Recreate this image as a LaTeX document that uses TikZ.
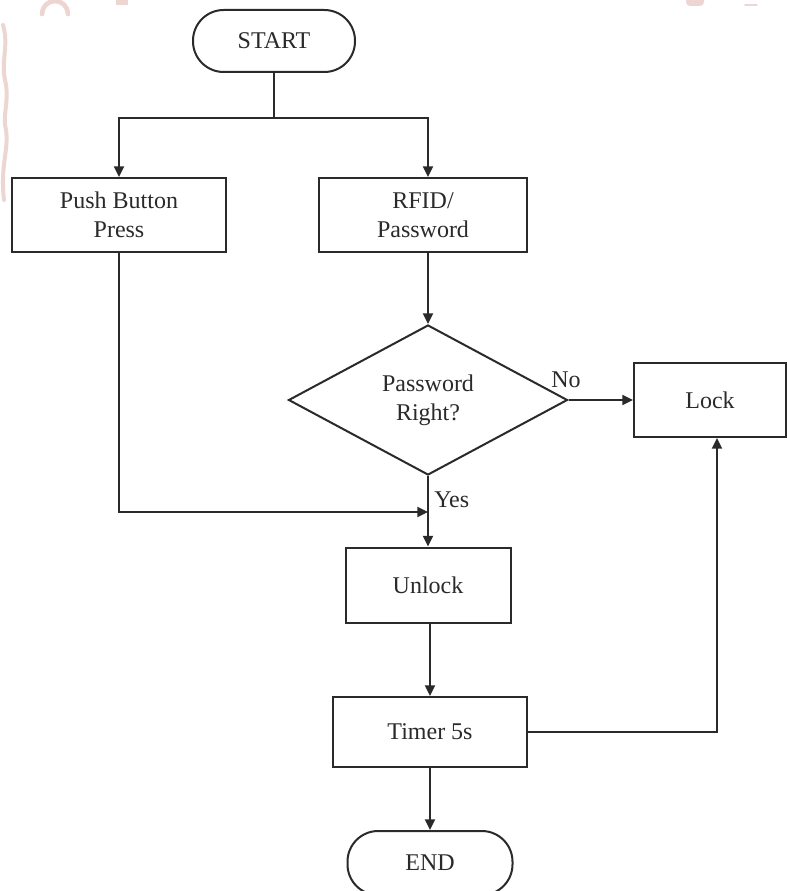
\documentclass[tikz,border=0pt]{standalone}
\usepackage{fontspec}
\setmainfont{Liberation Serif}
\usetikzlibrary{shapes.geometric,arrows.meta}

\definecolor{ink}{HTML}{2A2A2A}
\definecolor{pinkmark}{HTML}{EDD6D2}

\tikzset{
  base/.style={draw=ink, line width=1.5pt, text=ink, align=center, inner sep=0pt,
               font=\fontsize{18}{22}\selectfont},
  procbox/.style={base, rectangle},
  termbox/.style={base, rectangle, rounded corners=23pt},
  decbox/.style={base, diamond, aspect=1.86},
  flow/.style={draw=ink, line width=1.5pt, -{Triangle[length=8pt,width=7.5pt]}},
  link/.style={draw=ink, line width=1.5pt},
  lbl/.style={text=ink, font=\fontsize{18}{22}\selectfont, inner sep=0pt}
}

\begin{document}
\begin{tikzpicture}[x=0.75pt,y=-0.75pt]
  \useasboundingbox (0,0) rectangle (787,891);
  \fill[white] (0,0) rectangle (787,891);

  % faint background marks
  \begin{scope}[draw=pinkmark, line width=3.5pt, line cap=round]
    \draw (42,14) arc[start angle=180, end angle=360, radius=13];
    \fill[pinkmark] (116,0) rectangle (128,5);
    \fill[pinkmark, rounded corners=3pt] (686,-4) rectangle (704,6);
    \draw[line width=1.2pt] (745,5) -- (757,5);
    \draw[line width=3pt] (3,25) .. controls (9,45) and (1,60) .. (5,80)
          .. controls (10,100) and (2,115) .. (6,130)
          .. controls (9,150) and (0,165) .. (4,200);
  \end{scope}

  % nodes
  \node[termbox, minimum width=121.5pt, minimum height=46.5pt] (start) at (274,41) {START};
  \node[procbox, minimum width=160.5pt, minimum height=55.5pt] (push) at (119,215) {Push Button\\Press};
  \node[procbox, minimum width=156pt, minimum height=55.5pt] (rfid) at (423,215) {RFID/\\Password};
  \node[decbox, minimum width=209.25pt, minimum height=112.5pt] (dec) at (428,400) {Password\\Right?};
  \node[procbox, minimum width=114pt, minimum height=55.5pt] (lock) at (710,400) {Lock};
  \node[procbox, minimum width=123.75pt, minimum height=56.25pt] (unlock) at (428,585) {Unlock};
  \node[procbox, minimum width=145.5pt, minimum height=52.5pt] (timer) at (430,732) {Timer 5s};
  \node[termbox, minimum width=123.75pt, minimum height=48pt] (end) at (430,863) {END};

  % branch point below START, merge point above Unlock
  \coordinate (split) at (274,118);
  \coordinate (join) at (428,512);
  \coordinate (backup) at (717,0);

  % connectors
  \draw[link] (start.south) -- (split);
  \draw[flow] (split) -| (push.north);
  \draw[flow] (split) -| (rfid.north -| dec.north);
  \draw[flow] (rfid.south -| dec.north) -- (dec.north);
  \draw[flow] (dec.east) -- (lock.west);
  \draw[flow] (push.south) |- (join);
  \draw[flow] (dec.south) -- (unlock.north);
  \draw[flow] (unlock.south -| timer.north) -- (timer.north);
  \draw[flow] (timer.east) -| (lock.south -| backup);
  \draw[flow] (timer.south) -- (end.north);

  % branch labels
  \node[lbl, anchor=west] (no) at (551,380) {No};
  \node[lbl, anchor=west] (yes) at (434,500) {Yes};
\end{tikzpicture}
\end{document}
